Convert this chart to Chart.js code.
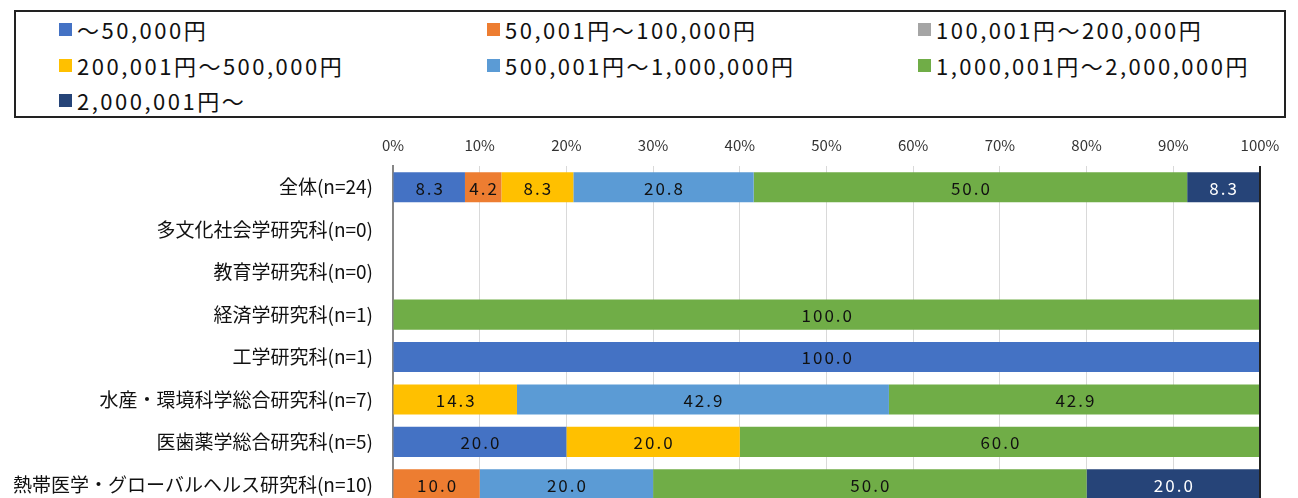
<!DOCTYPE html>
<html>
<head>
<meta charset="utf-8">
<script src="https://cdn.jsdelivr.net/npm/chart.js@4"></script>
<style>
body { margin: 0; width: 1298px; height: 498px; overflow: hidden; background: #fff; font-family: "Noto Sans CJK JP", sans-serif; }
#legend { position: absolute; left: 14px; top: 10px; width: 1268px; height: 104px; border: 2px solid #222; }
.item { position: absolute; height: 30px; display: flex; align-items: center; font-size: 22px; letter-spacing: 2.5px; color: #111; white-space: nowrap; }
.item span { display: inline-block; width: 13px; height: 13px; margin-right: 5px; }
#wrap { position: absolute; left: 0; top: 120px; }
</style>
</head>
<body>
<div id="legend"></div>
<div id="wrap"><canvas id="myChart" width="1298" height="417"></canvas></div>
<script>
// categories (rows)
const categories = [
	"全体(n=24)",
	"多文化社会学研究科(n=0)",
	"教育学研究科(n=0)",
	"経済学研究科(n=1)",
	"工学研究科(n=1)",
	"水産・環境科学総合研究科(n=7)",
	"医歯薬学総合研究科(n=5)",
	"熱帯医学・グローバルヘルス研究科(n=10)"
];

// series (percent)
const upTo50k      = [8.3, 0, 0, 0, 100.0, 0, 20.0, 0];
const to100k       = [4.2, 0, 0, 0, 0, 0, 0, 10.0];
const to200k       = [0, 0, 0, 0, 0, 0, 0, 0];
const to500k       = [8.3, 0, 0, 0, 0, 14.3, 20.0, 0];
const to1m         = [20.8, 0, 0, 0, 0, 42.9, 0, 20.0];
const to2m         = [50.0, 0, 0, 100.0, 0, 42.9, 60.0, 50.0];
const over2m       = [8.3, 0, 0, 0, 0, 0, 0, 20.0];

const seriesLabels = [
	"～50,000円",
	"50,001円～100,000円",
	"100,001円～200,000円",
	"200,001円～500,000円",
	"500,001円～1,000,000円",
	"1,000,001円～2,000,000円",
	"2,000,001円～"
];
const colors = ["#4472C4", "#ED7D31", "#A5A5A5", "#FFC000", "#5B9BD5", "#70AD47", "#264478"];
const tickLabels = [0, 10, 20, 30, 40, 50, 60, 70, 80, 90, 100];

const allData = [upTo50k, to100k, to200k, to500k, to1m, to2m, over2m];

// legend box (html)
const legendEl = document.getElementById("legend");
const colX = [43, 471, 902];
const rowY = [2, 38, 73];
seriesLabels.forEach((label, i) => {
	const div = document.createElement("div");
	div.className = "item";
	div.style.left = colX[i % 3] + "px";
	div.style.top = rowY[Math.floor(i / 3)] + "px";
	div.innerHTML = '<span style="background:' + colors[i] + '"></span>' + label;
	legendEl.appendChild(div);
});

// value labels inside bars + right border line
const barLabels = {
	id: "barLabels",
	afterDatasetsDraw(chart) {
		const ctx = chart.ctx;
		ctx.save();
		ctx.font = '17px "Noto Sans CJK JP", sans-serif';
		ctx.letterSpacing = "2px";
		ctx.textAlign = "center";
		ctx.textBaseline = "middle";
		chart.data.datasets.forEach((ds, i) => {
			const meta = chart.getDatasetMeta(i);
			meta.data.forEach((bar, j) => {
				const v = ds.data[j];
				if (!v) return;
				const p = bar.getProps(["x", "y", "base"], true);
				ctx.fillStyle = i === 6 ? "#fff" : "#111";
				ctx.fillText(v.toFixed(1), (p.x + p.base) / 2 + 1, p.y + 1);
			});
		});
		const a = chart.chartArea;
		ctx.strokeStyle = "#222";
		ctx.lineWidth = 2;
		ctx.beginPath();
		ctx.moveTo(a.right, a.top);
		ctx.lineTo(a.right, a.bottom);
		ctx.stroke();
		ctx.restore();
	}
};

const ctx = document.getElementById("myChart").getContext("2d");
const myChart = new Chart(ctx, {
	type: "bar",
	data: {
		labels: categories,
		datasets: allData.map((d, i) => ({
			label: seriesLabels[i],
			data: d,
			backgroundColor: colors[i],
			borderWidth: 0,
			barPercentage: 0.71,
			categoryPercentage: 1
		}))
	},
	options: {
		indexAxis: "y",
		responsive: false,
		animation: false,
		devicePixelRatio: 1,
		layout: { padding: { right: 38, bottom: 0 } },
		plugins: {
			legend: { display: false },
			tooltip: { enabled: false }
		},
		scales: {
			x: {
				stacked: true,
				position: "top",
				min: 0,
				max: 100,
				afterBuildTicks: (s) => { s.ticks = tickLabels.map((v) => ({ value: v })); },
				afterFit: (s) => { s.height = 46; },
				ticks: {
					callback: (v) => v + "%",
					font: { family: '"Noto Sans CJK JP", sans-serif', size: 15 },
					color: "#333",
					padding: 12,
					maxRotation: 0
				},
				grid: { color: "#d9d9d9", drawTicks: false },
				border: { display: false }
			},
			y: {
				stacked: true,
				afterFit: (s) => { s.width = 393; },
				ticks: {
					font: { family: '"Noto Sans CJK JP", sans-serif', size: 19 },
					color: "#111",
					padding: 20
				},
				grid: { display: false, drawTicks: false },
				border: { color: "#868686", width: 2 }
			}
		}
	},
	plugins: [barLabels]
});
</script>
</body>
</html>
